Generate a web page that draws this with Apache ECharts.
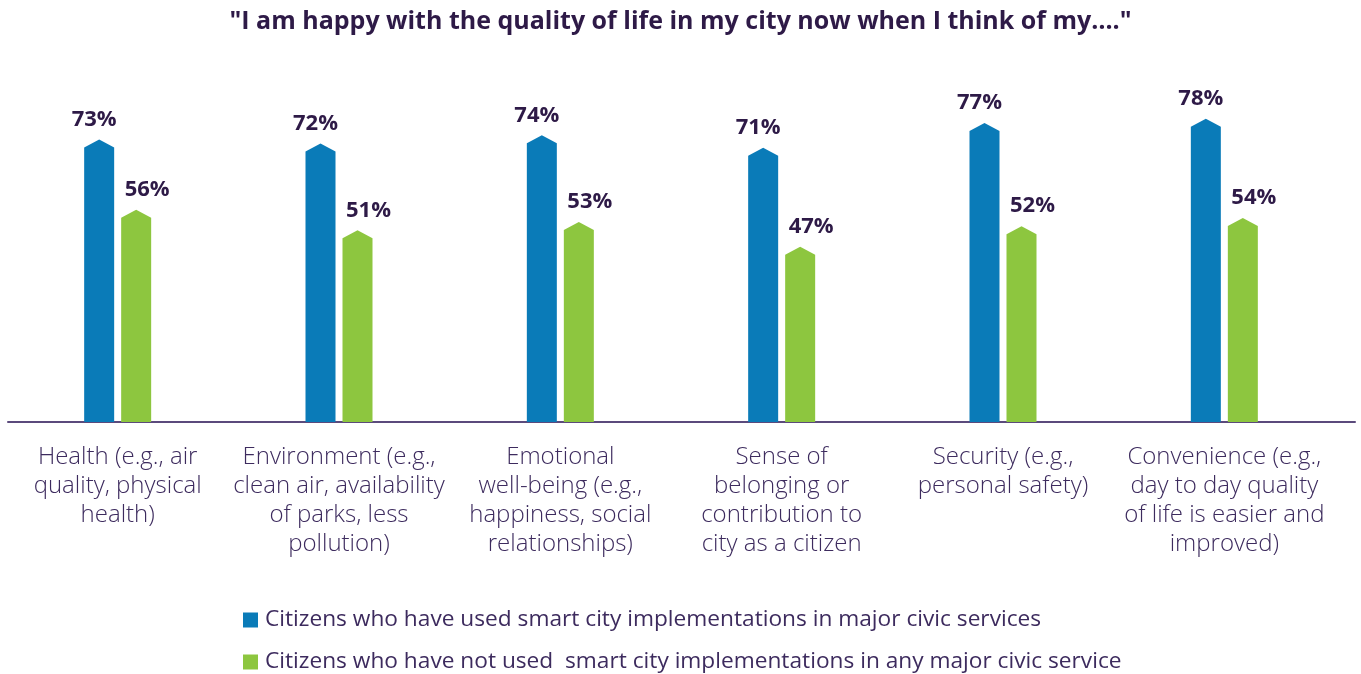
<!DOCTYPE html>
<html>
<head>
<meta charset="utf-8">
<script src="https://cdn.jsdelivr.net/npm/echarts@6/dist/echarts.min.js"></script>
<style>
  html, body { margin: 0; padding: 0; background: #fff; }
  #chart { width: 1361px; height: 674px; }
</style>
</head>
<body>
<div id="chart"></div>
<script>
var categories = [
  'Health (e.g., air\nquality, physical\nhealth)',
  'Environment (e.g.,\nclean air, availability\nof parks, less\npollution)',
  'Emotional\nwell-being (e.g.,\nhappiness, social\nrelationships)',
  'Sense of\nbelonging or\ncontribution to\ncity as a citizen',
  'Security (e.g.,\npersonal safety)',
  'Convenience (e.g.,\nday to day quality\nof life is easier and\nimproved)'
];
var usedValues = [73, 72, 74, 71, 77, 78];
var notUsedValues = [56, 51, 53, 47, 52, 54];
var seriesNames = [
  'Citizens who have used smart city implementations in major civic services',
  'Citizens who have not used  smart city implementations in any major civic service'
];
var colors = ['#0a7bb8', '#8dc63f'];

var textDark = '#2e1a47';
var textLight = '#3d2b5e';

// bar with a pointed top, drawn from axis coords
function makeRender(offset, labelShift, color) {
  return function (params, api) {
    var idx = api.value(0);
    var v = api.value(1);
    var top = api.coord([idx, v]);
    var base = api.coord([idx, 6.5]);
    var cx = top[0] + offset;
    var w = 30, peak = 8;
    var x0 = cx - w / 2, x1 = cx + w / 2;
    return {
      type: 'group',
      children: [
        {
          type: 'polygon',
          shape: { points: [[x0, base[1]], [x0, top[1]], [cx, top[1] - peak], [x1, top[1]], [x1, base[1]]] },
          style: { fill: color }
        },
        {
          type: 'text',
          style: {
            text: v + '%',
            x: cx + labelShift,
            y: top[1] - peak - 9,
            align: 'center',
            verticalAlign: 'bottom',
            fill: textDark,
            font: 'bold 22px "Open Sans"'
          }
        }
      ]
    };
  };
}

var legendBase = {
  orient: 'vertical',
  left: 238,
  itemWidth: 15,
  itemHeight: 15,
  icon: 'rect',
  textStyle: { color: textLight, fontSize: 22.7, lineHeight: 26, fontFamily: 'Open Sans', padding: [0, 0, 0, 2] }
};

var chart = echarts.init(document.getElementById('chart'));
chart.setOption({
  animation: false,
  title: {
    text: '"I am happy with the quality of life in my city now when I think of my…."',
    left: 'center',
    top: 4,
    textStyle: { color: textDark, fontSize: 25, fontWeight: 'bold', fontFamily: 'Open Sans' }
  },
  legend: [
    Object.assign({}, legendBase, { top: 602, data: [seriesNames[0]] }),
    Object.assign({}, legendBase, { top: 644, data: [seriesNames[1]] })
  ],
  grid: [
    { left: 7, right: 26, top: 36, bottom: 252 },
    { left: 8, right: 6, top: 36, bottom: 252 }
  ],
  xAxis: [
    {
      type: 'category',
      gridIndex: 0,
      data: categories,
      axisLine: { show: false },
      axisTick: { show: false },
      axisLabel: {
        color: textLight,
        fontSize: 24,
        lineHeight: 29,
        fontFamily: 'Open Sans',
        fontWeight: 300,
        margin: 21,
        interval: 0
      }
    },
    {
      type: 'category',
      gridIndex: 1,
      data: categories,
      axisLine: { lineStyle: { color: '#5b4a7c', width: 2 } },
      axisTick: { show: false },
      axisLabel: { show: false }
    }
  ],
  yAxis: [
    { type: 'value', gridIndex: 0, min: 6.5, max: 100, show: false },
    { type: 'value', gridIndex: 1, min: 6.5, max: 100, show: false }
  ],
  series: [
    {
      name: seriesNames[0],
      type: 'custom',
      xAxisIndex: 0,
      yAxisIndex: 0,
      itemStyle: { color: colors[0] },
      renderItem: makeRender(-18.5, -5, colors[0]),
      data: usedValues.map(function (v, i) { return [i, v]; })
    },
    {
      name: seriesNames[1],
      type: 'custom',
      xAxisIndex: 0,
      yAxisIndex: 0,
      itemStyle: { color: colors[1] },
      renderItem: makeRender(18.5, 11, colors[1]),
      data: notUsedValues.map(function (v, i) { return [i, v]; })
    }
  ]
});
</script>
</body>
</html>
